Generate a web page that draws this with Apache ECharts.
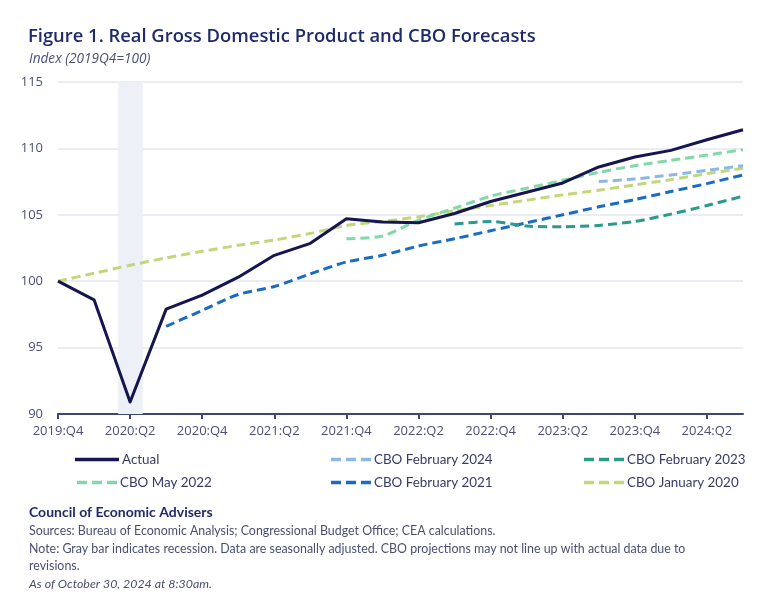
<!DOCTYPE html>
<html><head><meta charset="utf-8">
<script src="https://cdn.jsdelivr.net/npm/echarts@6/dist/echarts.min.js"></script>
<style>html,body{margin:0;padding:0;background:#fff}#c{width:760px;height:609px}</style>
</head><body><div id="c"></div>
<script>
var quarters = ['2019:Q4','2020:Q1','2020:Q2','2020:Q3','2020:Q4','2021:Q1','2021:Q2','2021:Q3','2021:Q4','2022:Q1','2022:Q2','2022:Q3','2022:Q4','2023:Q1','2023:Q2','2023:Q3','2023:Q4','2024:Q1','2024:Q2','2024:Q3'];
var tickIdx = [0,2,4,6,8,10,12,14,16,18];
var yTicks = [90,95,100,105,110,115];
var actual  = [100,98.6,90.9,97.9,98.95,100.3,101.95,102.85,104.7,104.45,104.4,105.1,106.0,106.7,107.4,108.6,109.35,109.85,110.65,111.4];
var feb2024 = [null,null,null,null,null,null,null,null,null,null,null,null,null,null,null,107.5,107.7,108.0,108.35,108.7];
var feb2023 = [null,null,null,null,null,null,null,null,null,null,null,104.3,104.5,104.15,104.1,104.2,104.5,105.05,105.7,106.4];
var may2022 = [null,null,null,null,null,null,null,null,103.2,103.4,104.6,105.5,106.4,107.0,107.6,108.2,108.7,109.1,109.5,109.9];
var feb2021 = [null,null,null,96.6,97.8,99.0,99.6,100.55,101.45,101.95,102.65,103.2,103.8,104.4,105.0,105.6,106.15,106.75,107.35,108.0];
var jan2020 = [100,100.6,101.2,101.75,102.25,102.7,103.1,103.6,104.2,104.5,104.85,105.3,105.7,106.1,106.5,106.85,107.25,107.65,108.1,108.5];
var recession = [1.67, 2.35];

function pairs(arr){ return arr.map(function(v,i){ return [i, v]; }); }

var names = ['Actual','CBO February 2024','CBO February 2023','CBO May 2022','CBO February 2021','CBO January 2020'];
var colors = ['#15154f','#8cb8e6','#2a9a8d','#82d8a8','#1a6cc3','#c2d67a'];
var datas = [actual,feb2024,feb2023,may2022,feb2021,jan2020];
var dash = [9,5];
var series = [];
for (var k = datas.length - 1; k >= 0; k--) {
  series.push({
    name: names[k], type: 'line', data: pairs(datas[k]), symbol: 'none',
    smooth: k === 0 ? false : 0.25, connectNulls: false,
    z: k === 0 ? 10 : 3 + (datas.length - k),
    lineStyle: { color: colors[k], width: 3, type: k === 0 ? 'solid' : dash, join: 'round', cap: 'butt' },
    itemStyle: { color: colors[k] }
  });
}
series.push({
  type: 'line', data: [], silent: true, z: 1,
  markArea: { silent: true, itemStyle: { color: '#edf0f6' },
    data: [[{ xAxis: recession[0] }, { xAxis: recession[1] }]] }
});

var solidIcon = 'path://M0 0H44V3.5H0Z';
var dashIcon = 'path://M0 0H10V3.5H0Z M15 0H25V3.5H15Z M30 0H40V3.5H30Z';
var legendPos = [[75,453],[329,453],[582,453],[75,476],[329,476],[582,476]];
var legends = names.map(function(n, i){
  var solid = i === 0;
  return { data: [n], left: solid ? legendPos[i][0] : legendPos[i][0] + 2, top: legendPos[i][1],
    icon: solid ? solidIcon : dashIcon,
    itemWidth: solid ? 44 : 40, itemHeight: 3.5, itemGap: 4,
    textStyle: { fontFamily: 'Lato', fontSize: 13.4, color: '#363b68', padding: [0,0,0,-2] }, padding: 0 };
});

var foot = '#4a4f72';
var chart = echarts.init(document.getElementById('c'), null, { renderer: 'canvas' });
chart.setOption({
  animation: false,
  grid: { left: 58, right: 17, top: 82, bottom: 195 },
  xAxis: {
    type: 'value', min: 0, max: quarters.length - 1, interval: 2,
    axisLine: { show: true, lineStyle: { color: '#3f4479', width: 2 } },
    axisTick: { show: true, length: 5, lineStyle: { color: '#3f4479', width: 2 }, customValues: tickIdx },
    axisLabel: { customValues: tickIdx, formatter: function(v){ return quarters[v]; }, margin: 11,
      fontFamily: 'Open Sans', fontSize: 13, color: '#4b5079' },
    splitLine: { show: false }
  },
  yAxis: {
    type: 'value', min: yTicks[0], max: yTicks[yTicks.length-1], interval: 5,
    axisLine: { show: false }, axisTick: { show: false },
    axisLabel: { margin: 15, fontFamily: 'Open Sans', fontSize: 13, color: '#4b5079' },
    splitLine: { lineStyle: { color: '#e3e7f1', width: 1.5 } }
  },
  legend: legends,
  series: series,
  graphic: [
    { type: 'text', left: 28, top: 28, style: { text: 'Figure 1. Real Gross Domestic Product and CBO Forecasts', font: '600 18.4px "Open Sans"', fill: '#1f2a6b' } },
    { type: 'text', left: 29, top: 52, style: { text: 'Index (2019Q4=100)', font: 'italic 13.6px "Open Sans"', fill: '#4b5079' } },
    { type: 'text', left: 29, top: 505, style: { text: 'Council of Economic Advisers', font: 'bold 14px Lato', fill: '#1f2a6b' } },
    { type: 'text', left: 29, top: 525, style: { text: 'Sources: Bureau of Economic Analysis; Congressional Budget Office; CEA calculations.', font: '12.4px Lato', fill: foot } },
    { type: 'text', left: 29, top: 543, style: { text: 'Note: Gray bar indicates recession. Data are seasonally adjusted. CBO projections may not line up with actual data due to', font: '12.4px Lato', fill: foot } },
    { type: 'text', left: 29, top: 560, style: { text: 'revisions.', font: '12.4px Lato', fill: foot } },
    { type: 'text', left: 29, top: 578, style: { text: 'As of October 30, 2024 at 8:30am.', font: 'italic 12.4px Lato', fill: foot } }
  ]
});
</script></body></html>
